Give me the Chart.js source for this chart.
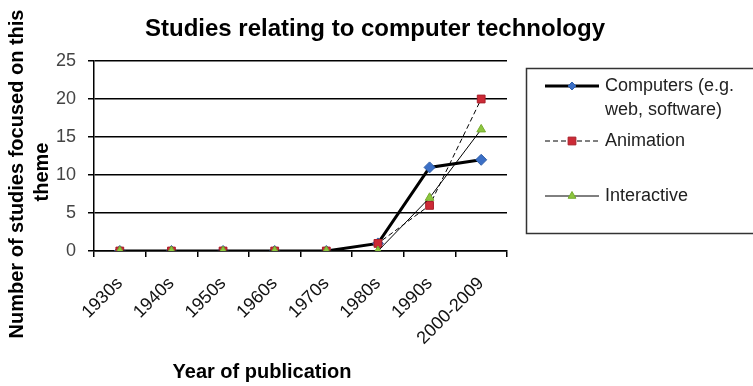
<!DOCTYPE html>
<html>
<head>
<meta charset="utf-8">
<style>
  html, body { margin: 0; padding: 0; background: #fff; }
  #wrap { width: 753px; height: 386px; position: relative; }
</style>
<script src="https://cdn.jsdelivr.net/npm/chart.js@4/dist/chart.umd.min.js"></script>
</head>
<body>
<div id="wrap"><canvas id="c" width="753" height="386"></canvas></div>
<script>
// Decades of publication
const categories = ['1930s', '1940s', '1950s', '1960s', '1970s', '1980s', '1990s', '2000-2009'];

// Number of studies per decade for each theme
const computers   = [0, 0, 0, 0, 0, 1, 11, 12];
const animation   = [0, 0, 0, 0, 0, 1, 6, 20];
const interactive = [0, 0, 0, 0, 0, 0, 7, 16];

const seriesNames = ['Computers (e.g.\nweb, software)', 'Animation', 'Interactive'];
const yTicks = [0, 5, 10, 15, 20, 25];

const chartTitle = 'Studies relating to computer technology';
const yTitle = ['Number of studies focused on this', 'theme'];
const xTitle = 'Year of publication';

const FONT = '"Liberation Sans", Arial, sans-serif';

// Titles and the boxed legend on the right
const decorations = {
  id: 'decorations',
  afterDraw(chart) {
    const ctx = chart.ctx;
    ctx.save();
    ctx.fillStyle = '#000';
    ctx.textAlign = 'center';
    ctx.textBaseline = 'middle';
    ctx.font = 'bold 24px ' + FONT;
    ctx.fillText(chartTitle, 375, 29);

    ctx.font = 'bold 20px ' + FONT;
    ctx.fillText(xTitle, 262, 372);

    ctx.save();
    ctx.rotate(-Math.PI / 2);
    ctx.font = 'bold 20px ' + FONT;
    ctx.fillText(yTitle[0], -174, 17);
    ctx.fillText(yTitle[1], -172, 42);
    ctx.restore();

    // legend box
    ctx.strokeStyle = '#333';
    ctx.lineWidth = 1.5;
    ctx.strokeRect(526.5, 68.5, 240, 165);

    const rows = [86, 141, 196];
    ctx.textAlign = 'left';
    ctx.font = '18px ' + FONT;
    chart.data.datasets.forEach((ds, i) => {
      const y = rows[i];
      ctx.save();
      ctx.strokeStyle = ds.borderColor;
      ctx.lineWidth = ds.borderWidth;
      ctx.setLineDash(ds.borderDash || []);
      ctx.beginPath();
      ctx.moveTo(545, y);
      ctx.lineTo(599, y);
      ctx.stroke();
      ctx.restore();
      ctx.save();
      ctx.fillStyle = ds.pointBackgroundColor;
      ctx.strokeStyle = ds.pointBorderColor;
      ctx.lineWidth = 1;
      Chart.helpers.drawPoint(ctx, {
        pointStyle: ds.pointStyle,
        radius: ds.legendRadius,
        borderWidth: 1
      }, 572, y);
      ctx.restore();
      ctx.fillStyle = '#222';
      const lines = seriesNames[i].split('\n');
      lines.forEach((t, k) => ctx.fillText(t, 605, y + k * 24));
    });
    ctx.restore();
  }
};

const chart = new Chart(document.getElementById('c'), {
  type: 'line',
  data: {
    labels: categories,
    datasets: [
      {
        label: 'Computers',
        data: computers,
        borderColor: '#000',
        borderWidth: 3,
        pointStyle: 'rectRot',
        pointRadius: 5.5,
        legendRadius: 4,
        pointBackgroundColor: '#3b6fc6',
        pointBorderColor: '#2f5ea8',
        pointBorderWidth: 1,
        order: 3
      },
      {
        label: 'Animation',
        data: animation,
        borderColor: '#000',
        borderWidth: 1,
        borderDash: [5, 3],
        pointStyle: 'rect',
        pointRadius: 5.5,
        legendRadius: 5.5,
        pointBackgroundColor: '#cc2a36',
        pointBorderColor: '#a8202b',
        pointBorderWidth: 1,
        order: 2
      },
      {
        label: 'Interactive',
        data: interactive,
        borderColor: '#000',
        borderWidth: 1,
        pointStyle: 'triangle',
        pointRadius: 5,
        legendRadius: 4.5,
        pointBackgroundColor: '#8cc63e',
        pointBorderColor: '#76ab2f',
        pointBorderWidth: 1,
        order: 1
      }
    ]
  },
  options: {
    responsive: false,
    animation: false,
    layout: { padding: { left: 0, top: 61, right: 246, bottom: 0 } },
    plugins: {
      legend: { display: false },
      tooltip: { enabled: false }
    },
    scales: {
      x: {
        offset: true,
        afterFit(scale) { scale.height = 135; },
        grid: {
          offset: true,
          drawOnChartArea: false,
          drawTicks: true,
          tickLength: 6,
          color: '#000',
          lineWidth: 1.5
        },
        border: { color: '#000', width: 1.5 },
        ticks: {
          minRotation: 45,
          maxRotation: 45,
          color: '#111',
          font: { family: FONT, size: 18 },
          padding: 16
        }
      },
      y: {
        min: 0,
        max: 25,
        afterFit(scale) { scale.width = 94; },
        afterBuildTicks(scale) { scale.ticks = yTicks.map(v => ({ value: v })); },
        grid: {
          color: '#000',
          lineWidth: 1.5,
          tickLength: 6
        },
        border: { color: '#000', width: 1.5 },
        ticks: {
          color: '#444',
          font: { family: FONT, size: 18 },
          padding: 12
        }
      }
    }
  },
  plugins: [decorations]
});
</script>
</body>
</html>
